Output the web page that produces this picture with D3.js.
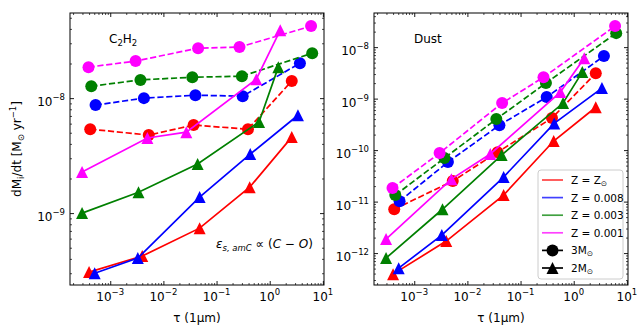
<!DOCTYPE html>
<html lang="en">
<head>
<meta charset="UTF-8">
<title>dM/dt vs tau</title>
<script src="https://cdnjs.cloudflare.com/ajax/libs/d3/7.8.5/d3.min.js"></script>
<style>
    body { margin: 0; background: #fff; font-family: "DejaVu Sans", sans-serif; }
    text { fill: #000; }
</style>
</head>
<body>
<div id="chart"></div>
<script>
// metallicities (legend order) and colours
const metals = ["Z = Z", "Z = 0.008", "Z = 0.003", "Z = 0.001"];
const metalSub = ["⊙", "", "", ""];
const colors = ["#ff0000", "#0000ff", "#008000", "#ff00ff"];

// tau(1um) for each model, 3 Msun (circles, dashed) and 2 Msun (triangles, solid)
const tau3M_Zsun = [4.2e-4, 5.3e-3, 0.037, 0.39, 2.6];
const tau3M_008  = [5.3e-4, 4.3e-3, 0.040, 0.31, 3.7];
const tau3M_003  = [4.4e-4, 3.7e-3, 0.035, 0.30, 6.3];
const tau3M_001  = [3.9e-4, 3.0e-3, 0.045, 0.27, 6.0];
const tau2M_Zsun = [4.0e-4, 4.0e-3, 0.048, 0.42, 2.6];
const tau2M_008  = [5.1e-4, 3.3e-3, 0.048, 0.43, 3.4];
const tau2M_003  = [2.95e-4, 3.4e-3, 0.044, 0.63, 1.45];
const tau2M_001  = [2.95e-4, 5.0e-3, 0.027, 0.56, 1.58];

// C2H2 loss rate
const c2h2_3M_Zsun = [5.37e-9, 4.77e-9, 5.83e-9, 5.37e-9, 1.41e-8];
const c2h2_3M_008  = [8.7e-9, 1.0e-8, 1.06e-8, 1.04e-8, 2.01e-8];
const c2h2_3M_003  = [1.27e-8, 1.44e-8, 1.52e-8, 1.55e-8, 2.46e-8];
const c2h2_3M_001  = [1.86e-8, 2.1e-8, 2.72e-8, 2.78e-8, 4.23e-8];
const c2h2_2M_Zsun = [3.07e-10, 4.23e-10, 7.4e-10, 1.68e-9, 4.58e-9];
const c2h2_2M_008  = [3.0e-10, 4.06e-10, 1.38e-9, 3.26e-9, 7.1e-9];
const c2h2_2M_003  = [1.0e-9, 1.52e-9, 2.67e-9, 6.2e-9, 1.86e-8];
const c2h2_2M_001  = [2.28e-9, 4.5e-9, 5.06e-9, 1.46e-8, 3.9e-8];

// dust loss rate
const dust_3M_Zsun = [7.1e-12, 2.5e-11, 9.1e-11, 4.2e-10, 3.1e-9];
const dust_3M_008  = [1.02e-11, 5.85e-11, 3.05e-10, 1.07e-9, 6.7e-9];
const dust_3M_003  = [1.34e-11, 7.0e-11, 4.0e-10, 2.0e-9, 1.87e-8];
const dust_3M_001  = [1.83e-11, 8.75e-11, 8.2e-10, 2.6e-9, 2.56e-8];
const dust_2M_Zsun = [3.9e-13, 1.71e-12, 1.34e-11, 1.5e-10, 6.8e-10];
const dust_2M_008  = [5.1e-13, 2.24e-12, 3.0e-11, 3.3e-10, 1.6e-9];
const dust_2M_003  = [8.0e-13, 7.1e-12, 8.0e-11, 8.2e-10, 3.27e-9];
const dust_2M_001  = [1.87e-12, 2.73e-11, 8.4e-11, 1.34e-9, 6.1e-9];

const tau3M = [tau3M_Zsun, tau3M_008, tau3M_003, tau3M_001];
const tau2M = [tau2M_Zsun, tau2M_008, tau2M_003, tau2M_001];

const xDomain = [1.75e-4, 10.5];
const xMajor = [1e-3, 1e-2, 1e-1, 1, 10];

const W = 644, H = 330;
const pw = 254, ph = 272, topY = 13;

const svg = d3.select("#chart").append("svg")
    .attr("width", W).attr("height", H);

const triPath = "M0,-6L6,6L-6,6Z";

function minorTicks(domain) {
    const out = [];
    const e0 = Math.floor(Math.log10(domain[0])), e1 = Math.ceil(Math.log10(domain[1]));
    for (let e = e0; e <= e1; e++) {
        for (let k = 2; k <= 9; k++) {
            const v = k * Math.pow(10, e);
            if (v >= domain[0] && v <= domain[1]) out.push(v);
        }
    }
    return out;
}

function powLabel(sel, v) {
    const e = Math.round(Math.log10(v));
    sel.append("tspan").text("10");
    sel.append("tspan").attr("dy", -6).attr("font-size", 8.5)
        .text(e < 0 ? "\u2212" + Math.abs(e) : String(e));
}

function panel(left, yDomain, yMajor, y3M, y2M) {
    const g = svg.append("g").attr("transform", `translate(${left},${topY})`);
    const x = d3.scaleLog().domain(xDomain).range([0, pw]);
    const y = d3.scaleLog().domain(yDomain).range([ph, 0]);

    const xMinor = minorTicks(xDomain);
    const yMinor = minorTicks(yDomain);

    // ticks pointing inward on all four sides
    const axes = [
        [d3.axisBottom(x), `translate(0,${ph})`, xMajor, xMinor],
        [d3.axisTop(x), "translate(0,0)", xMajor, xMinor],
        [d3.axisLeft(y), "translate(0,0)", yMajor, yMinor],
        [d3.axisRight(y), `translate(${pw},0)`, yMajor, yMinor]
    ];
    axes.forEach(([ax, tr, maj, min]) => {
        const a1 = g.append("g").attr("transform", tr)
            .call(ax.tickValues(maj).tickSizeInner(-4).tickSizeOuter(0).tickFormat(""));
        a1.select(".domain").remove();
        a1.selectAll("line").attr("stroke", "#000").attr("stroke-width", 0.9);
        const a2 = g.append("g").attr("transform", tr)
            .call(ax.tickValues(min).tickSizeInner(-2).tickSizeOuter(0).tickFormat(""));
        a2.select(".domain").remove();
        a2.selectAll("line").attr("stroke", "#000").attr("stroke-width", 0.7);
    });

    // tick labels
    xMajor.forEach(v => {
        g.append("text")
            .attr("x", x(v)).attr("y", ph + 16)
            .attr("text-anchor", "middle")
            .attr("font-size", 12)
            .call(powLabel, v);
    });
    yMajor.forEach(v => {
        g.append("text")
            .attr("x", -5).attr("y", y(v) + 8)
            .attr("text-anchor", "end")
            .attr("font-size", 12)
            .call(powLabel, v);
    });

    // x label
    g.append("text")
        .attr("x", pw / 2).attr("y", ph + 37)
        .attr("text-anchor", "middle")
        .attr("font-size", 12)
        .text("\u03c4 (1\u03bcm)");

    const line = d3.line().x(d => x(d[0])).y(d => y(d[1]));

    colors.forEach((c, i) => {
        const d3M = tau3M[i].map((t, j) => [t, y3M[i][j]]);
        const d2M = tau2M[i].map((t, j) => [t, y2M[i][j]]);

        g.append("path").datum(d3M)
            .attr("d", line)
            .attr("fill", "none").attr("stroke", c)
            .attr("stroke-width", 1.7)
            .attr("stroke-dasharray", "6.2,2.7");
        g.selectAll(null).data(d3M).enter().append("circle")
            .attr("cx", d => x(d[0])).attr("cy", d => y(d[1]))
            .attr("r", 6).attr("fill", c);

        g.append("path").datum(d2M)
            .attr("d", line)
            .attr("fill", "none").attr("stroke", c)
            .attr("stroke-width", 1.7);
        g.selectAll(null).data(d2M).enter().append("path")
            .attr("transform", d => `translate(${x(d[0])},${y(d[1])})`)
            .attr("d", triPath).attr("fill", c);
    });

    // frame
    g.append("rect")
        .attr("width", pw).attr("height", ph)
        .attr("fill", "none").attr("stroke", "#000").attr("stroke-width", 1);

    return g;
}

const gl = panel(70, [2.37e-10, 5.5e-8], [1e-9, 1e-8],
    [c2h2_3M_Zsun, c2h2_3M_008, c2h2_3M_003, c2h2_3M_001],
    [c2h2_2M_Zsun, c2h2_2M_008, c2h2_2M_003, c2h2_2M_001]);

const gr = panel(374, [2.4e-13, 4.6e-8], [1e-12, 1e-11, 1e-10, 1e-9, 1e-8],
    [dust_3M_Zsun, dust_3M_008, dust_3M_003, dust_3M_001],
    [dust_2M_Zsun, dust_2M_008, dust_2M_003, dust_2M_001]);

// panel titles
const t1 = gl.append("text").attr("x", 39).attr("y", 30).attr("font-size", 12);
t1.append("tspan").text("C");
t1.append("tspan").attr("dy", 3).attr("font-size", 8.5).text("2");
t1.append("tspan").attr("dy", -3).text("H");
t1.append("tspan").attr("dy", 3).attr("font-size", 8.5).text("2");

gr.append("text").attr("x", 40).attr("y", 30).attr("font-size", 12).text("Dust");

// annotation
const an = gl.append("text").attr("x", 146).attr("y", 235).attr("font-size", 12);
an.append("tspan").attr("font-style", "italic").text("\u03b5");
an.append("tspan").attr("dy", 3).attr("font-size", 8.5).attr("font-style", "italic").text("s, amC");
an.append("tspan").attr("dy", -3).text(" \u221d (");
an.append("tspan").attr("font-style", "italic").text("C");
an.append("tspan").text(" \u2212 ");
an.append("tspan").attr("font-style", "italic").text("O");
an.append("tspan").text(")");

// y label
const yl = svg.append("text")
    .attr("transform", `translate(21,${topY + ph / 2}) rotate(-90)`)
    .attr("text-anchor", "middle").attr("font-size", 12);
yl.append("tspan").text("dM");
yl.append("tspan").attr("dy", 3).attr("font-size", 8.5).text("i");
yl.append("tspan").attr("dy", -3).text("/dt [M");
yl.append("tspan").attr("dy", 3).attr("font-size", 8.5).text("\u2299");
yl.append("tspan").attr("dy", -3).text(" yr");
yl.append("tspan").attr("dy", -5).attr("font-size", 8.5).text("\u22121");
yl.append("tspan").attr("dy", 5).text("]");

// legend
const lg = svg.append("g").attr("transform", "translate(538,170)");
lg.append("rect")
    .attr("width", 85).attr("height", 109).attr("rx", 3)
    .attr("fill", "#fff").attr("fill-opacity", 0.8)
    .attr("stroke", "#ccc").attr("stroke-width", 1);
const rowY = d3.scalePoint().domain(d3.range(6)).range([10, 98]);
metals.forEach((m, i) => {
    lg.append("line")
        .attr("x1", 4).attr("x2", 25)
        .attr("y1", rowY(i)).attr("y2", rowY(i))
        .attr("stroke", colors[i]).attr("stroke-width", 1.7).attr("stroke-opacity", 0.75);
    const t = lg.append("text").attr("x", 33).attr("y", rowY(i) + 4).attr("font-size", 10.5);
    t.append("tspan").text(m);
    if (metalSub[i]) t.append("tspan").attr("dy", 2).attr("font-size", 7.5).text(metalSub[i]);
});
const massLabels = ["3M", "2M"];
massLabels.forEach((m, k) => {
    const yy = rowY(4 + k);
    lg.append("line")
        .attr("x1", 4).attr("x2", 25).attr("y1", yy).attr("y2", yy)
        .attr("stroke", "#000").attr("stroke-width", 1.7);
    if (k === 0) {
        lg.append("circle").attr("cx", 14.5).attr("cy", yy).attr("r", 6).attr("fill", "#000");
    } else {
        lg.append("path").attr("transform", `translate(14.5,${yy})`).attr("d", triPath).attr("fill", "#000");
    }
    const t = lg.append("text").attr("x", 33).attr("y", yy + 4).attr("font-size", 10.5);
    t.append("tspan").text(m);
    t.append("tspan").attr("dy", 2).attr("font-size", 7.5).text("\u2299");
});
</script>
</body>
</html>
